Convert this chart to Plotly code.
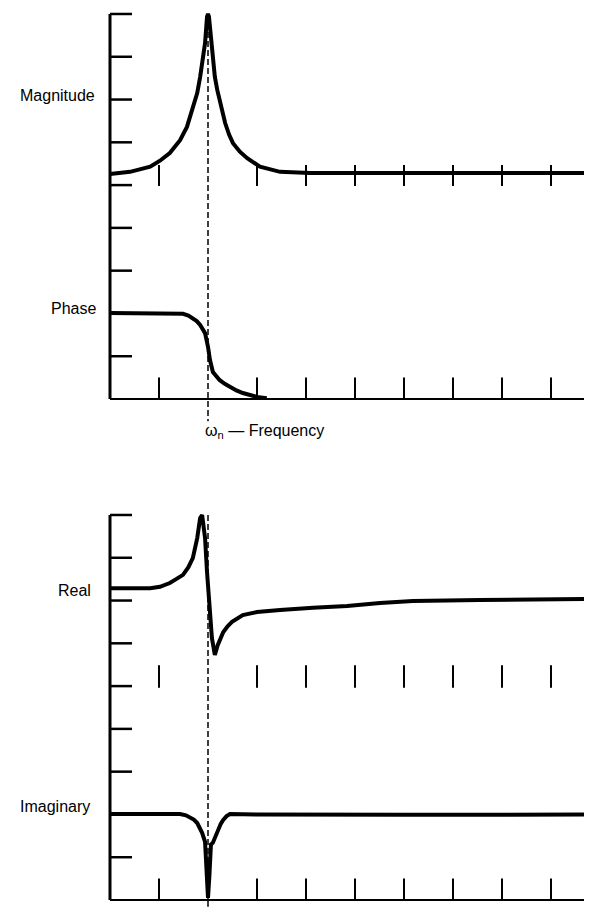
import plotly.graph_objects as go

# ---------------- data (frequency in tick units, ω_n = 2) ----------------
mag_f = [0, 0.41, 0.82, 1.02, 1.22, 1.43, 1.57, 1.67, 1.78, 1.84, 1.90, 1.94, 1.98, 2.0,
         2.02, 2.05, 2.08, 2.14, 2.19, 2.24, 2.35, 2.43, 2.51, 2.65, 2.80, 3.06, 3.47, 4.08,
         5.0, 6.0, 7.0, 8.0, 9.0, 9.84]
mag_v = [5.26, 5.31, 5.43, 5.57, 5.75, 6.05, 6.36, 6.76, 7.15, 7.53, 7.99, 8.32, 8.93, 9.0,
         8.93, 8.55, 8.16, 7.53, 7.22, 6.99, 6.45, 6.18, 5.98, 5.78, 5.63, 5.43, 5.31, 5.28,
         5.28, 5.28, 5.27, 5.28, 5.28, 5.28]

phase_f = [0, 1.0, 1.30, 1.49, 1.60, 1.69, 1.77, 1.84, 1.94, 2.0, 2.04, 2.10, 2.17, 2.24,
           2.35, 2.45, 2.58, 2.71, 2.85, 3.0, 3.2]
phase_v = [2.01, 2.01, 2.01, 1.99, 1.95, 1.89, 1.82, 1.73, 1.54, 1.22, 0.91, 0.63, 0.52,
           0.44, 0.35, 0.28, 0.20, 0.14, 0.09, 0.05, 0.02]

real_f = [0, 0.82, 1.02, 1.22, 1.35, 1.49, 1.60, 1.69, 1.78, 1.84, 1.88, 1.94, 1.98, 2.02,
          2.08, 2.14, 2.20, 2.31, 2.40, 2.49, 2.71, 3.0, 3.27, 3.47, 4.14, 4.84, 5.51, 6.18,
          7.55, 9.84]
real_v = [7.29, 7.29, 7.32, 7.41, 7.50, 7.60, 7.78, 7.99, 8.46, 8.93, 9.0, 8.46, 7.67, 6.90,
          6.12, 5.73, 5.96, 6.26, 6.40, 6.50, 6.66, 6.73, 6.76, 6.78, 6.83, 6.87, 6.94, 6.99,
          7.01, 7.04]

imag_f = [0, 1.43, 1.55, 1.63, 1.71, 1.78, 1.84, 1.88, 1.94, 1.97, 2.0, 2.03, 2.06, 2.10,
          2.16, 2.20, 2.26, 2.31, 2.38, 2.45, 3.0, 6.0, 9.84]
imag_v = [2.01, 2.01, 1.98, 1.94, 1.88, 1.80, 1.68, 1.57, 1.36, 0.6, 0.05, 0.6, 1.30, 1.34,
          1.52, 1.64, 1.78, 1.87, 1.96, 2.01, 2.0, 1.99, 2.0]

omega_n = 2.0
x_ticks = [1, 3, 4, 5, 6, 7, 8, 9]
y_ticks = [1, 2, 3, 4, 5, 6, 7, 8, 9]
x_end = 9.84

# ---------------- layout constants ----------------
OFF = 8              # page body margin
W, H = 592 - OFF, 909 - OFF
PX_X = 49.0          # px per frequency unit
PX_Y = 42.78         # px per y unit
X0 = 110 - OFF       # pixel of f=0
Y0_TOP, Y0_BOT = 399 - OFF, 900 - OFF   # pixel of v=0 in each panel
SPLIT = 455 - OFF

xr = [-X0 / PX_X, (W - X0) / PX_X]
top_dom = [1 - SPLIT / H, 1]
bot_dom = [0, 1 - SPLIT / H]
top_r = [(Y0_TOP - SPLIT) / PX_Y, Y0_TOP / PX_Y]
bot_r = [(Y0_BOT - H) / PX_Y, (Y0_BOT - SPLIT) / PX_Y]

BLACK = "#000000"
FONT = "Liberation Sans, Arial, sans-serif"

fig = go.Figure()


def seg_trace(xs, ys, width, ax, dash=None, shape="linear"):
    fig.add_trace(go.Scatter(x=xs, y=ys, mode="lines",
                             line=dict(color=BLACK, width=width, dash=dash, shape=shape),
                             xaxis=ax[0], yaxis=ax[1], showlegend=False, hoverinfo="skip"))


def frame(ax, mid_lo, mid_hi):
    seg_trace([0, 0], [0, max(y_ticks)], 3, ax)
    seg_trace([0, x_end], [0, 0], 2, ax)
    tx, ty = [], []
    for v in y_ticks:
        tx += [0, 22 / PX_X, None]
        ty += [v, v, None]
    seg_trace(tx, ty, 2.5, ax)
    bx, by, mx, my = [], [], [], []
    for f in x_ticks:
        bx += [f, f, None]
        by += [0, 0.5, None]
        mx += [f, f, None]
        my += [mid_lo, mid_hi, None]
    seg_trace(bx, by, 2, ax)
    seg_trace(mx, my, 2, ax)


top = ("x", "y")
bot = ("x2", "y2")

frame(top, 4.98, 5.47)
frame(bot, 4.96, 5.49)

# dashed ω_n lines
seg_trace([omega_n, omega_n], [9, -0.52], 1.5, top, dash="6px,3px")
seg_trace([omega_n, omega_n], [9, 0], 1.5, bot, dash="6px,3px")
seg_trace([omega_n, omega_n], [0, -0.16], 1.5, bot)

# curves
seg_trace(mag_f, mag_v, 4, top)
seg_trace(phase_f, phase_v, 4, top)
seg_trace(real_f, real_v, 4, bot)
seg_trace(imag_f, imag_v, 4, bot)

ann_font = dict(family=FONT, size=16, color=BLACK)


def ann(text, dx, ypx, y0, ax, anchor="right"):
    return dict(text=text, x=dx / PX_X, y=(y0 - (ypx - OFF)) / PX_Y, xref=ax[0], yref=ax[1],
                xanchor=anchor, yanchor="middle", showarrow=False, font=ann_font)


annotations = [
    ann("Magnitude", -13, 95, Y0_TOP, top),
    ann("Phase", -12, 308, Y0_TOP, top),
    ann("ω<sub>n</sub> — Frequency", 203 - 110, 431, Y0_TOP, top, anchor="left"),
    ann("Real", -17, 590, Y0_BOT, bot),
    ann("Imaginary", -18, 806, Y0_BOT, bot),
]

axis_common = dict(visible=False, fixedrange=True)
fig.update_layout(
    width=W, height=H,
    margin=dict(l=0, r=0, t=0, b=0),
    paper_bgcolor="white", plot_bgcolor="white",
    xaxis=dict(domain=[0, 1], range=xr, anchor="y", **axis_common),
    yaxis=dict(domain=top_dom, range=top_r, anchor="x", **axis_common),
    xaxis2=dict(domain=[0, 1], range=xr, anchor="y2", **axis_common),
    yaxis2=dict(domain=bot_dom, range=bot_r, anchor="x2", **axis_common),
    annotations=annotations,
    showlegend=False,
)

fig.write_html("out.html")
